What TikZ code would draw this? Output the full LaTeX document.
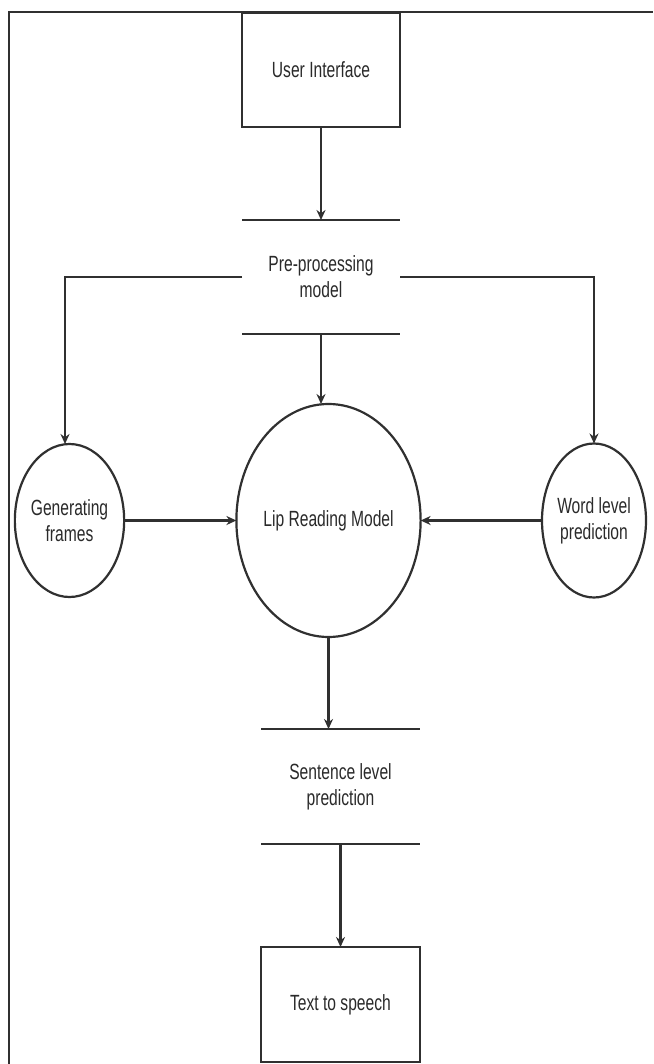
\documentclass[tikz,border=0pt]{standalone}
\usepackage{fontspec}
\setmainfont{Liberation Sans}[FakeStretch=0.71]
\usetikzlibrary{shapes.geometric,arrows.meta}
\definecolor{ink}{HTML}{303030}
\definecolor{txt}{HTML}{2A2A2A}
\begin{document}
\begin{tikzpicture}[x=1pt,y=-1pt,
  base/.style={inner sep=0pt,outer sep=0pt,text=txt,align=center,font=\fontsize{22}{26}\selectfont},
  procbox/.style={base,draw=ink,line width=2.2pt,rectangle,minimum width=158pt,minimum height=114pt},
  storebox/.style={base,rectangle,minimum width=158pt,minimum height=114pt},
  procell/.style={base,draw=ink,line width=2.2pt,ellipse},
  arr/.style={draw=ink,line width=2.2pt,-{Stealth[length=10pt,width=9pt]}},
  ln/.style={draw=ink,line width=2.4pt}]
\useasboundingbox (0,0) rectangle (653,1064);
\fill[white] (0,0) rectangle (653,1064);
% frame
\coordinate (fa) at (9,1064);
\coordinate (fb) at (9,12);
\coordinate (fc) at (653,12);
\draw[ln] (fa) -- (fb) -- (fc);
% nodes
\node[procbox] (ui) at (321,70) {User Interface};
\node[storebox] (pre) at (321,277) {Pre-processing\\model};
\draw[ln] (pre.north west) -- (pre.north east);
\draw[ln] (pre.south west) -- (pre.south east);
\node[procell,minimum width=105pt,minimum height=153pt] (gen) at (69.5,520.5) {Generating\\frames};
\node[procell,minimum width=159pt,minimum height=233pt] (lip) at (328.5,520.5) {Lip Reading Model};
\node[procell,minimum width=104pt,minimum height=154pt] (word) at (594,520.5) {Word level\\prediction};
\node[storebox,minimum width=159pt,minimum height=115pt] (sent) at (340.5,786.5) {Sentence level\\prediction};
\draw[ln] (sent.north west) -- (sent.north east);
\draw[ln] (sent.south west) -- (sent.south east);
\node[procbox,minimum width=159pt,minimum height=115pt] (tts) at (340.5,1004.5) {Text to speech};
% connectors
\draw[arr] (ui.south) -- (pre.north);
\draw[arr] (pre.south) -- (pre.south |- lip.north);
\draw[arr] (pre.west) -| ([xshift=-4.5pt]gen.north);
\draw[arr] (pre.east) -| (word.north);
\draw[arr] (gen.east) -- (lip.west);
\draw[arr] (word.west) -- (lip.east);
\draw[arr] (lip.south) -- (lip.south |- sent.north);
\draw[arr] (sent.south) -- (tts.north);
\end{tikzpicture}
\end{document}
